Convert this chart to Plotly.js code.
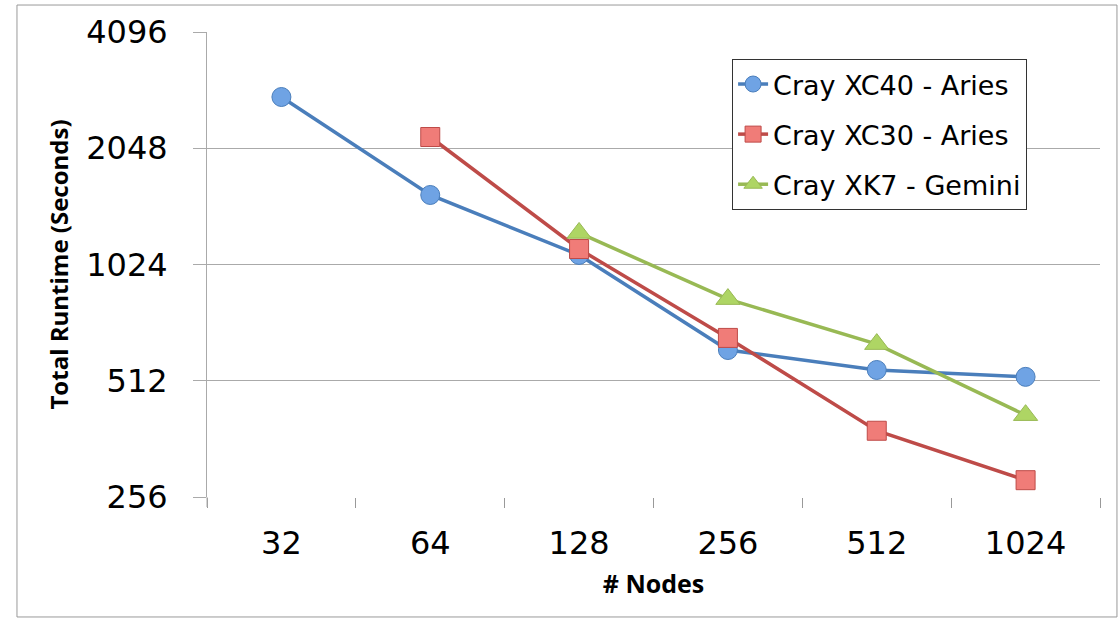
<!DOCTYPE html>
<html>
<head>
<meta charset="utf-8">
<script src="https://cdn.plot.ly/plotly-3.0.1.min.js"></script>
<style>
html,body{margin:0;padding:0;background:#fff;}
#chart{width:1119px;height:620px;}
</style>
</head>
<body>
<div id="chart"></div>
<script>
var nodes = ["32", "64", "128", "256", "512", "1024"];
var seriesNames = ["Cray XC40 - Aries", "Cray XC30 - Aries", "Cray XK7 - Gemini"];
var xc40 = [2780, 1550, 1084, 615, 546, 524];
var xc30 = [null, 2190, 1123, 661, 380, 283];
var xk7 = [null, null, 1236, 833, 637, 417];
var yTicks = [256, 512, 1024, 2048, 4096];

var FONT = "DejaVu Sans, sans-serif";
var TFONT = "Open Sans, DejaVu Sans, sans-serif";

function mk(name, y, line, fill, border, symbol, size, grp) {
  return {
    type: "scatter", mode: "lines+markers", name: name,
    x: nodes, y: y, connectgaps: false,
    legendgroup: grp,
    line: {color: line, width: 3.5},
    marker: {symbol: symbol, size: size, color: fill, line: {color: border, width: 1}}
  };
}

var traces = [
  mk(seriesNames[0], xc40, "#4A7EBB", "#6FA3E4", "#4A7EBB", "circle", 19, "a"),
  mk(seriesNames[1], xc30, "#BE4B48", "#F07C78", "#BE4B48", "square", 19, "b"),
  mk(seriesNames[2], xk7, "#98B954", "#AED564", "#98B954", "triangle-up", 21, "c")
];

var layout = {
  width: 1119, height: 620,
  margin: {l: 207, r: 19, t: 32, b: 123},
  paper_bgcolor: "#fff", plot_bgcolor: "#fff",
  font: {family: FONT, color: "#000"},
  showlegend: true,
  legend: {
    x: 0.588, y: 0.942, xanchor: "left", yanchor: "top",
    bordercolor: "#333", borderwidth: 1, bgcolor: "#fff",
    font: {family: FONT, size: 27, color: "#000"},
    traceorder: "grouped", tracegroupgap: 12,
    itemwidth: 30
  },
  xaxis: {
    type: "category", categoryorder: "array", categoryarray: nodes,
    range: [-0.5, 5.5],
    tickson: "boundaries", ticks: "outside", ticklen: 10, tickcolor: "#999", tickwidth: 1,
    ticklabelstandoff: 24,
    showgrid: false, zeroline: false,
    showline: false,
    tickfont: {family: FONT, size: 32, color: "#000"},
    title: {text: "<b># Nodes</b>", font: {family: TFONT, size: 25, color: "#000"}, standoff: 14}
  },
  yaxis: {
    type: "log",
    range: [Math.log10(256), Math.log10(4096)],
    tickvals: yTicks, ticktext: yTicks.map(String),
    ticks: "outside", ticklen: 13, tickcolor: "#aaa", tickwidth: 1,
    ticklabelstandoff: 19,
    showgrid: true, gridcolor: "#aaa", gridwidth: 1,
    showline: true, linecolor: "#aaa", linewidth: 1,
    zeroline: false,
    tickfont: {family: FONT, size: 32, color: "#000"},
    title: {text: "<b>Total Runtime (Seconds)</b>", font: {family: TFONT, size: 24, color: "#000"}, standoff: 10}
  },
  shapes: [
    {type: "rect", xref: "paper", yref: "paper", x0: -0.2128, x1: 1.019, y0: -0.258, y1: 1.058,
     line: {color: "#999", width: 1}, fillcolor: "rgba(0,0,0,0)", layer: "below"},
    {type: "line", xref: "paper", yref: "paper", x0: 0, x1: 0, y0: 0, y1: -0.0215,
     line: {color: "#aaa", width: 1}}
  ]
};

Plotly.newPlot("chart", traces, layout, {displayModeBar: false, staticPlot: true});
</script>
</body>
</html>
